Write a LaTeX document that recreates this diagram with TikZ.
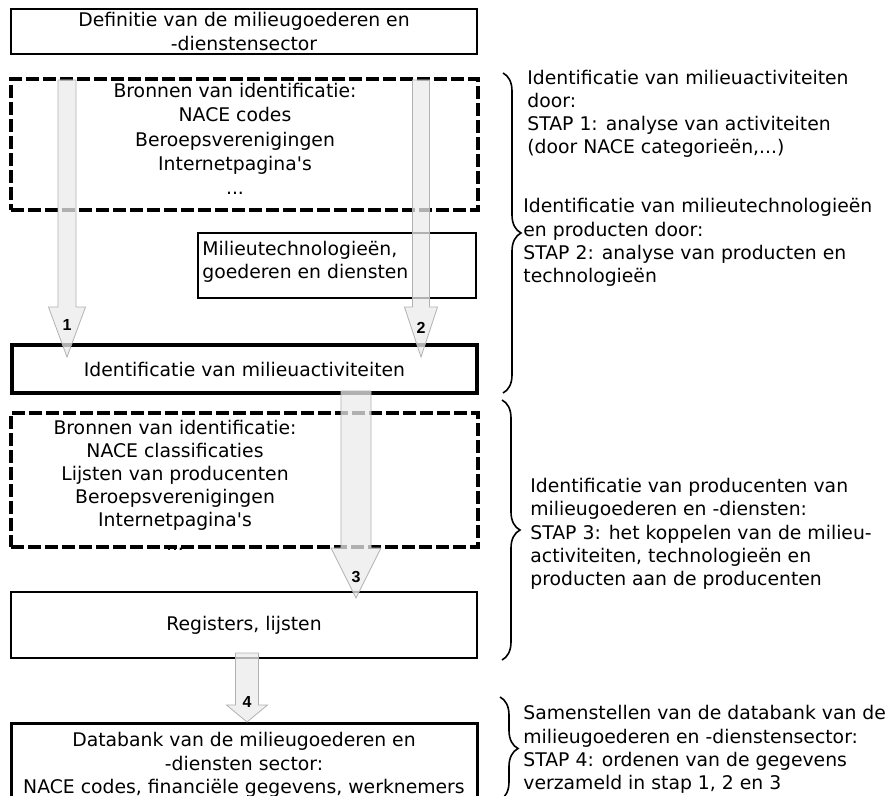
\documentclass[tikz,border=0pt]{standalone}
\usepackage{fontspec}
\setmainfont{DejaVu Sans}[Ligatures=TeXOff]
\newfontfamily\numfont{Liberation Sans}
\usepackage{tikz}
\usetikzlibrary{calc, decorations.pathreplacing}

\begin{document}
\begin{tikzpicture}[
  x=0.5pt, y=-0.5pt,
  txt/.style={font=\fontsize{9.4}{11.6}\selectfont, align=center, inner sep=0pt},
  box/.style={txt, draw, line width=1pt, minimum width=233pt},
  srcbox/.style={draw, line width=1.6pt, dash pattern=on 6.5pt off 2pt, minimum width=233.5pt},
  note/.style={txt, align=left, anchor=west},
  fatarrow/.style={draw=gray!60, fill=gray!15, line width=0.4pt, fill opacity=0.75},
  numlab/.style={font=\numfont\bfseries\fontsize{8}{9}\selectfont, inner sep=0pt},
  brace/.style={decorate, decoration={brace, amplitude=9pt}, line width=0.8pt},
]
\path[use as bounding box, fill=white] (0,0) rectangle (887,796);

% left column
\node[box, line width=1.3pt, minimum height=22.5pt] (def) at (244,31.5)
  {Definitie van de milieugoederen en\\-dienstensector};
\node[txt, font=\fontsize{9.4}{12.2}\selectfont] (src1txt) at (235,139)
  {Bronnen van identificatie:\\NACE codes\\Beroepsverenigingen\\Internetpagina's\\...};
\node[srcbox, minimum height=65.5pt] (src1) at (244.5,144.5) {};
\node[box, minimum width=139pt, minimum height=32.5pt] (tech) at (337,265.5) {};
\node[note] (techtxt) at (202,261.5) {Milieutechnologieën,\\goederen en diensten};
\node[box, line width=1.8pt, minimum width=232.5pt, minimum height=24pt] (ident) at (244.5,369)
  {Identificatie van milieuactiviteiten};
\node[txt] (src2txt) at (175,485)
  {Bronnen van identificatie:\\NACE classificaties\\Lijsten van producenten\\Beroepsverenigingen\\Internetpagina's\\...};
\node[srcbox, minimum height=67pt] (src2) at (244.5,480) {};
\node[box, minimum height=33pt] (reg) at (244,625) {Registers, lijsten};
\node[box, line width=1.5pt, minimum height=42pt] (db) at (244,765)
  {Databank van de milieugoederen en\\-diensten sector:\\NACE codes, financiële gegevens, werknemers};

% fat arrows
\coordinate (top1) at (67,80);   \coordinate (tip1) at (67,357);
\coordinate (top2) at (421,80);  \coordinate (tip2) at (421,357);
\coordinate (top3) at (356,391); \coordinate (tip3) at (356,598);
\coordinate (top4) at (247,653); \coordinate (tip4) at (247,722);
\foreach \n/\w/\h/\l/\d in {1/9/18.5/50/32, 2/8.5/16.5/50/29, 3/15/25/50/21, 4/11.5/20.5/17/20}{
  \draw[fatarrow] ($(top\n)+(-\w,0)$) -- ($(tip\n)+(-\w,-\l)$) -- ($(tip\n)+(-\h,-\l)$) -- (tip\n)
    -- ($(tip\n)+(\h,-\l)$) -- ($(tip\n)+(\w,-\l)$) -- ($(top\n)+(\w,0)$) -- cycle;
  \node[numlab] (num\n) at ($(tip\n)+(0,-\d)$) {\n};
}

% braces and steps
\coordinate (bt1) at (503,73);  \coordinate (bb1) at (503,393);
\coordinate (bt2) at (502,400); \coordinate (bb2) at (502,660);
\coordinate (bt3) at (500,697); \coordinate (bb3) at (500,800);
\foreach \n in {1,2,3}
  \draw[brace] (bt\n) -- (bb\n);

\node[note] (step1) at (527,114)
  {Identificatie van milieuactiviteiten\\door:\\STAP 1: analyse van activiteiten\\(door NACE categorieën,...)};
\node[note] (step2) at (523,242.5)
  {Identificatie van milieutechnologieën\\en producten door:\\STAP 2: analyse van producten en\\technologieën};
\node[note] (step3) at (530,534)
  {Identificatie van producenten van\\milieugoederen en -diensten:\\STAP 3: het koppelen van de milieu-\\activiteiten, technologieën en\\producten aan de producenten};
\node[note] (step4) at (523,749.5)
  {Samenstellen van de databank van de\\milieugoederen en -dienstensector:\\STAP 4: ordenen van de gegevens\\verzameld in stap 1, 2 en 3};
\end{tikzpicture}
\end{document}
